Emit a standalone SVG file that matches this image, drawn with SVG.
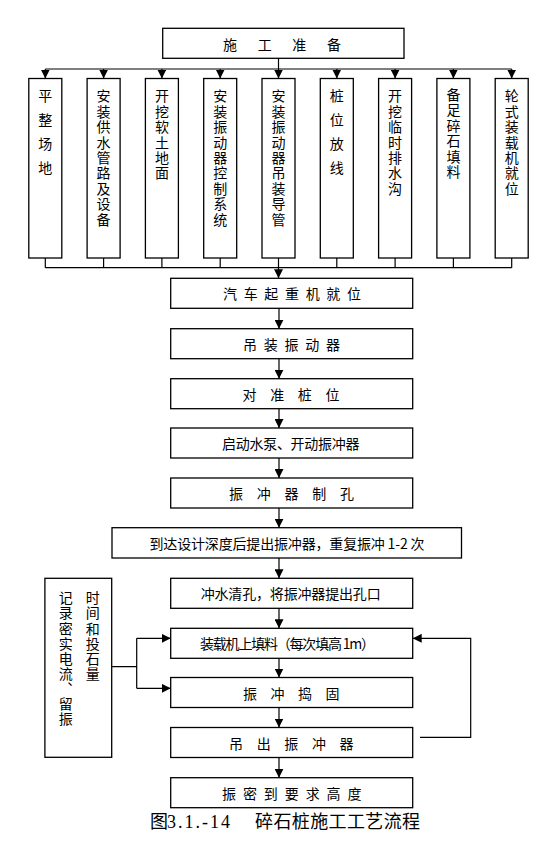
<svg xmlns="http://www.w3.org/2000/svg" width="555" height="861" viewBox="0 0 555 861">
<style>
.box{fill:#fff;stroke:#000;stroke-width:1.3}
.ln{fill:none;stroke:#000;stroke-width:1.2}
.t{font-family:"Noto Sans CJK SC","Liberation Sans",sans-serif;font-size:14px;fill:#000;dominant-baseline:central}
.v{font-family:"Noto Sans CJK SC","Liberation Sans",sans-serif;font-size:14px;fill:#000;writing-mode:vertical-rl;text-orientation:upright}
.cap{font-family:"Noto Sans CJK SC",sans-serif;font-size:18px;fill:#000}
</style>
<defs>
<marker id="ah" viewBox="0 0 10 10" refX="10" refY="5" markerWidth="9" markerHeight="9" markerUnits="userSpaceOnUse" orient="auto">
<path d="M0,0 L10,5 L0,10 z" fill="#000"/>
</marker>
</defs>
<g id="connectors">
<line class="ln" x1="278.5" y1="58.5" x2="278.5" y2="69"/>
<line class="ln" x1="45.3" y1="69" x2="511.7" y2="69"/>
<line class="ln" x1="45.3" y1="69" x2="45.3" y2="78.5" marker-end="url(#ah)"/>
<line class="ln" x1="103.6" y1="69" x2="103.6" y2="78.5" marker-end="url(#ah)"/>
<line class="ln" x1="161.9" y1="69" x2="161.9" y2="78.5" marker-end="url(#ah)"/>
<line class="ln" x1="220.2" y1="69" x2="220.2" y2="78.5" marker-end="url(#ah)"/>
<line class="ln" x1="278.5" y1="69" x2="278.5" y2="78.5" marker-end="url(#ah)"/>
<line class="ln" x1="336.8" y1="69" x2="336.8" y2="78.5" marker-end="url(#ah)"/>
<line class="ln" x1="395.1" y1="69" x2="395.1" y2="78.5" marker-end="url(#ah)"/>
<line class="ln" x1="453.4" y1="69" x2="453.4" y2="78.5" marker-end="url(#ah)"/>
<line class="ln" x1="511.7" y1="69" x2="511.7" y2="78.5" marker-end="url(#ah)"/>
<path class="ln" d="M45.3,258 V267.7 M103.6,258 V267.7 M161.9,258 V267.7 M220.2,258 V267.7 M336.8,258 V267.7 M395.1,258 V267.7 M453.4,258 V267.7 M511.7,258 V267.7 M45.3,267.7 H511.7"/>
<line class="ln" x1="278.5" y1="258" x2="278.5" y2="278.3" marker-end="url(#ah)"/>
<line class="ln" x1="279" y1="308.3" x2="279" y2="328.7" marker-end="url(#ah)"/>
<line class="ln" x1="279" y1="358.7" x2="279" y2="378.7" marker-end="url(#ah)"/>
<line class="ln" x1="279" y1="408.7" x2="279" y2="428" marker-end="url(#ah)"/>
<line class="ln" x1="279" y1="458" x2="279" y2="478" marker-end="url(#ah)"/>
<line class="ln" x1="279" y1="508" x2="279" y2="527.7" marker-end="url(#ah)"/>
<line class="ln" x1="279" y1="558" x2="279" y2="578.3" marker-end="url(#ah)"/>
<line class="ln" x1="279" y1="608.3" x2="279" y2="628.3" marker-end="url(#ah)"/>
<line class="ln" x1="279" y1="658.3" x2="279" y2="677.5" marker-end="url(#ah)"/>
<line class="ln" x1="279" y1="707.5" x2="279" y2="727.5" marker-end="url(#ah)"/>
<line class="ln" x1="279" y1="757.5" x2="279" y2="777.7" marker-end="url(#ah)"/>
<path class="ln" d="M111.7,666.7 H136.7 M136.7,638.3 V688.3"/>
<line class="ln" x1="136.7" y1="638.3" x2="170.7" y2="638.3" marker-end="url(#ah)"/>
<line class="ln" x1="136.7" y1="688.3" x2="170.7" y2="688.3" marker-end="url(#ah)"/>
<path class="ln" d="M420,737.3 H470.7 V638.3 H412.7" marker-end="url(#ah)"/>
</g>
<g id="n-prep"><rect class="box" x="162.7" y="28.3" width="241.3" height="30"/>
<text class="t" x="223" y="43.5" textLength="118" lengthAdjust="spacing">施工准备</text></g>
<g id="n-v1"><rect class="box" x="28.8" y="78.5" width="33" height="179.5"/><text class="v" x="45.3" y="89" letter-spacing="10">平整场地</text></g>
<g id="n-v2"><rect class="box" x="87.1" y="78.5" width="33" height="179.5"/><text class="v" x="103.6" y="89" letter-spacing="1.4">安装供水管路及设备</text></g>
<g id="n-v3"><rect class="box" x="145.4" y="78.5" width="33" height="179.5"/><text class="v" x="161.9" y="89" letter-spacing="1.4">开挖软土地面</text></g>
<g id="n-v4"><rect class="box" x="203.7" y="78.5" width="33" height="179.5"/><text class="v" x="220.2" y="89" letter-spacing="1.4">安装振动器控制系统</text></g>
<g id="n-v5"><rect class="box" x="262" y="78.5" width="33" height="179.5"/><text class="v" x="278.5" y="89" letter-spacing="1.4">安装振动器吊装导管</text></g>
<g id="n-v6"><rect class="box" x="320.3" y="78.5" width="33" height="179.5"/><text class="v" x="336.8" y="89" letter-spacing="10">桩位放线</text></g>
<g id="n-v7"><rect class="box" x="378.6" y="78.5" width="33" height="179.5"/><text class="v" x="395.1" y="89" letter-spacing="1.4">开挖临时排水沟</text></g>
<g id="n-v8"><rect class="box" x="436.9" y="78.5" width="33" height="179.5"/><text class="v" x="453.4" y="87.5" letter-spacing="1.5">备足碎石填料</text></g>
<g id="n-v9"><rect class="box" x="495.2" y="78.5" width="33" height="179.5"/><text class="v" x="511.7" y="89" letter-spacing="1.4">轮式装载机就位</text></g>
<g id="n-m1"><rect class="box" x="170.7" y="278.3" width="242" height="30"/><text class="t" x="223" y="293.3" textLength="138" lengthAdjust="spacing">汽车起重机就位</text></g>
<g id="n-m2"><rect class="box" x="170.7" y="328.7" width="242" height="30"/><text class="t" x="243" y="343.7" textLength="97" lengthAdjust="spacing">吊装振动器</text></g>
<g id="n-m3"><rect class="box" x="170.7" y="378.7" width="242" height="30"/><text class="t" x="242.5" y="393.7" textLength="97" lengthAdjust="spacing">对准桩位</text></g>
<g id="n-m4"><rect class="box" x="170.7" y="428" width="242" height="30"/><text class="t" x="222" y="443" textLength="137.5" lengthAdjust="spacing">启动水泵、开动振冲器</text></g>
<g id="n-m5"><rect class="box" x="170.7" y="478" width="242" height="30"/><text class="t" x="229" y="493" textLength="125" lengthAdjust="spacing">振冲器制孔</text></g>
<g id="n-m6"><rect class="box" x="112" y="527.7" width="349.5" height="30.3"/><text class="t" x="149.5" y="542.8" textLength="275" lengthAdjust="spacing">到达设计深度后提出振冲器，重复振冲 1-2 次</text></g>
<g id="n-m7"><rect class="box" x="170.7" y="578.3" width="242" height="30"/><text class="t" x="200.7" y="593.3" textLength="180" lengthAdjust="spacing">冲水清孔，将振冲器提出孔口</text></g>
<g id="n-m8"><rect class="box" x="170.7" y="628.3" width="242" height="30"/><text class="t" x="200" y="643.3" textLength="175" lengthAdjust="spacing">装载机上填料（每次填高 1m）</text></g>
<g id="n-m9"><rect class="box" x="170.7" y="677.5" width="242" height="30"/><text class="t" x="243" y="692.5" textLength="96.5" lengthAdjust="spacing">振冲捣固</text></g>
<g id="n-m10"><rect class="box" x="170.7" y="727.5" width="242" height="30"/><text class="t" x="229" y="742.5" textLength="124.5" lengthAdjust="spacing">吊出振冲器</text></g>
<g id="n-m11"><rect class="box" x="170.7" y="777.7" width="242" height="30"/><text class="t" x="222" y="792.7" textLength="139.5" lengthAdjust="spacing">振密到要求高度</text></g>
<g id="n-record"><rect class="box" x="44.9" y="578.3" width="66.8" height="179"/>
<text class="v" x="65.8" y="591" letter-spacing="1.1">记录密实电流、留振</text>
<text class="v" x="92.7" y="591" letter-spacing="1.1">时间和投石量</text></g>
<text class="cap" x="150" y="828">图<tspan x="167" font-family="Liberation Serif,serif" textLength="63" lengthAdjust="spacing">3.1.-14</tspan><tspan x="255" textLength="165" lengthAdjust="spacing">碎石桩施工工艺流程</tspan></text>
</svg>
